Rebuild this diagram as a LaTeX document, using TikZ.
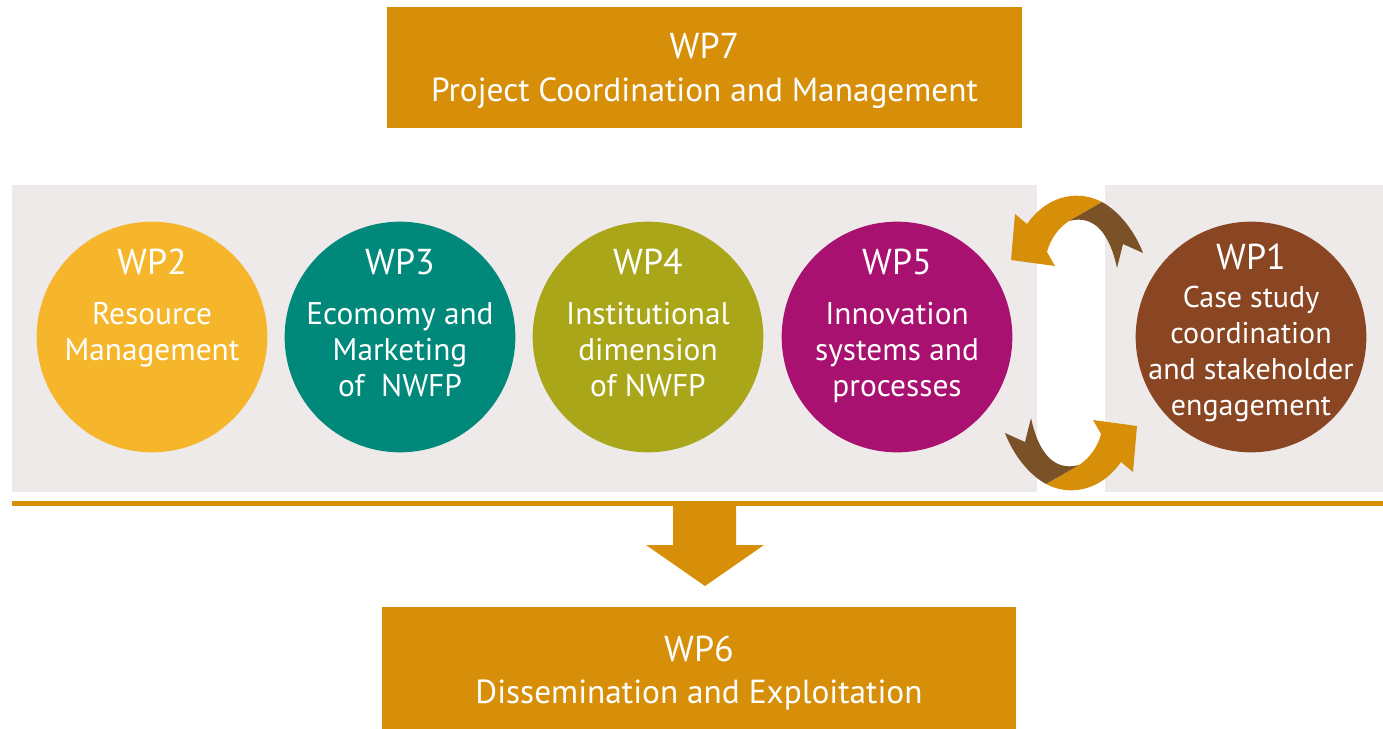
\documentclass[tikz,border=0pt]{standalone}
\usepackage{fontspec}
\setmainfont{PT Sans}
\definecolor{wporange}{RGB}{215,143,10}
\definecolor{bandgrey}{RGB}{238,234,234}
\definecolor{cwptwo}{RGB}{246,182,43}
\definecolor{cwpthree}{RGB}{0,137,122}
\definecolor{cwpfour}{RGB}{170,166,26}
\definecolor{cwpfive}{RGB}{168,17,111}
\definecolor{cwpone}{RGB}{138,70,35}
\definecolor{arrbrown}{RGB}{123,82,40}
\begin{document}
\begin{tikzpicture}[x=0.75pt,y=-0.75pt,
  wpbox/.style={fill=wporange,draw=none,minimum width=476pt,minimum height=91pt,inner sep=0pt},
  wpcircle/.style={circle,draw=none,minimum size=173pt,inner sep=0pt},
  boxtitle/.style={text=white,font=\fontsize{27}{32}\selectfont,anchor=base,inner sep=0pt},
  boxline/.style={text=white,font=\fontsize{25}{30}\selectfont,anchor=base,inner sep=0pt},
  circtitle/.style={text=white,font=\fontsize{27}{32}\selectfont,anchor=base,inner sep=0pt},
  circtext/.style={text=white,font=\fontsize{23.5}{27.2}\selectfont,align=center,anchor=north,inner sep=0pt},
  band/.style={fill=bandgrey,draw=none}]
\useasboundingbox (0,0) rectangle (1383,728);
% background bands
\path[band] (12,185) rectangle (1037,492);
\path[band] (1105,185) rectangle (1383,492);
\fill[wporange] (12,501) rectangle (1383,506);
% top and bottom boxes
\node[wpbox] (wp7) at (704.5,67.5) {};
\node[boxtitle] (wp7a) at (704.5,58) {WP7};
\node[boxline] (wp7b) at (704.5,101) {Project Coordination and Management};
\node[wpbox,minimum height=100pt] (wp6) at (699,674) {};
\node[boxtitle] (wp6a) at (699,661) {WP6};
\node[boxline] (wp6b) at (699,703) {Dissemination and Exploitation};
% circles
\node[wpcircle,fill=cwptwo] (wp2) at (152,337) {};
\node[wpcircle,fill=cwpthree] (wp3) at (400,337) {};
\node[wpcircle,fill=cwpfour] (wp4) at (648,337) {};
\node[wpcircle,fill=cwpfive] (wp5) at (897,337) {};
\node[wpcircle,fill=cwpone] (wp1) at (1251,337) {};
\node[circtitle] (wp2a) at (152,274) {WP2};
\node[circtext] (wp2b) at (152,302) {Resource\\Management};
\node[circtitle] (wp3a) at (400,274) {WP3};
\node[circtext] (wp3b) at (400,302) {Ecomomy and\\Marketing\\of~ NWFP};
\node[circtitle] (wp4a) at (648,274) {WP4};
\node[circtext] (wp4b) at (648,302) {Institutional\\dimension\\of NWFP};
\node[circtitle] (wp5a) at (897,274) {WP5};
\node[circtext] (wp5b) at (897,302) {Innovation\\systems and\\processes};
\node[circtitle] (wp1a) at (1251,269) {WP1};
\node[circtext,font=\fontsize{22.5}{27}\selectfont] (wp1b) at (1251,286) {Case study\\coordination\\and stakeholder\\engagement};
% down arrow
\fill[wporange] (673,506) -- (736,506) -- (736,545) -- (764,545) -- (705,586) -- (646,545) -- (673,545) -- cycle;
% curved arrows
\foreach \rot in {0,180}{
\begin{scope}[rotate around={\rot:(1074,343)}]
\fill[wporange] (1011,260) -- (1015,214) -- (1027,224) .. controls (1045,198) and (1075,188) .. (1102,202) -- (1069,221) .. controls (1058,228) and (1050,240) .. (1047,252) -- (1055,266) -- cycle;
\fill[arrbrown] (1102,202) .. controls (1120,212) and (1135,232) .. (1143,253) -- (1123,244) -- (1117,268) .. controls (1110,235) and (1095,214) .. (1069,221) -- cycle;
\end{scope}}
\end{tikzpicture}
\end{document}
